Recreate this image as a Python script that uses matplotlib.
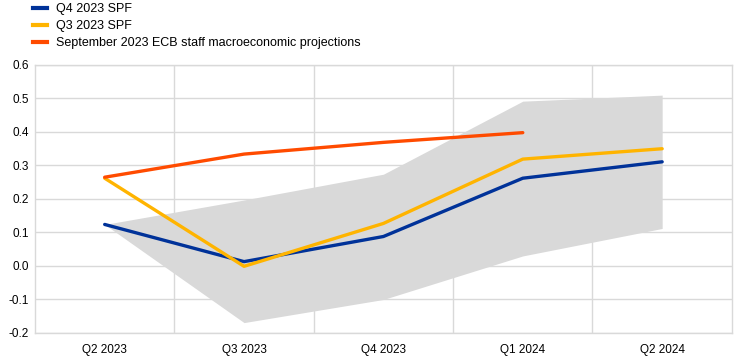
import numpy as np
import matplotlib.pyplot as plt
from matplotlib.lines import Line2D

plt.rcParams['font.family'] = ['Liberation Sans', 'DejaVu Sans']

quarters = ["Q2 2023", "Q3 2023", "Q4 2023", "Q1 2024", "Q2 2024"]
spf_q4 = [0.124, 0.013, 0.088, 0.262, 0.311]
spf_q3 = [0.262, -0.001, 0.127, 0.319, 0.350]
ecb_sep = [0.265, 0.334, 0.369, 0.398]
band_low = [0.124, -0.169, -0.100, 0.030, 0.112]
band_high = [0.124, 0.197, 0.274, 0.492, 0.510]

blue = "#003299"
yellow = "#ffb400"
orange = "#ff4b00"
grid = "#d9d9d9"

fig = plt.figure(figsize=(7.43, 3.61), dpi=100)
ax = fig.add_axes([0.0471, 0.0776, 0.9379, 0.7424])

x = np.arange(len(quarters))
ax.fill_between(x, band_low, band_high, color="#d9d9d9", lw=0, zorder=1)
ax.plot(x, spf_q4, color=blue, lw=2.4, zorder=3, solid_capstyle="round")
ax.plot(x, spf_q3, color=yellow, lw=2.4, zorder=4, solid_capstyle="round")
ax.plot(x[:len(ecb_sep)], ecb_sep, color=orange, lw=2.4, zorder=5, solid_capstyle="round")

ax.set_xlim(-0.5, len(quarters) - 0.5)
ax.set_ylim(-0.2, 0.6)
ax.set_yticks(np.arange(-0.2, 0.61, 0.1))
ax.set_yticklabels([f"{v:.1f}" for v in np.arange(-0.2, 0.61, 0.1)])
ax.set_xticks(x)
ax.set_xticklabels(quarters)
ax.set_xticks(np.arange(0.5, len(quarters) - 1, 1), minor=True)
ax.tick_params(axis="both", which="both", length=0, labelsize=8.5, colors="black")
ax.tick_params(axis="y", pad=4.5)
ax.tick_params(axis="x", pad=8)
ax.grid(axis="y", which="major", color=grid, lw=1, zorder=0)
ax.grid(axis="x", which="minor", color=grid, lw=1, zorder=0)
for s in ax.spines.values():
    s.set_color(grid)
    s.set_linewidth(1)
ax.set_axisbelow(True)

handles = [Line2D([], [], color=c, lw=3) for c in (blue, yellow, orange)]
labels = ["Q4 2023 SPF", "Q3 2023 SPF", "September 2023 ECB staff macroeconomic projections"]
fig.legend(handles, labels, loc="upper left", bbox_to_anchor=(0.045, 0.991), frameon=False,
           fontsize=9, handlelength=1.1, handletextpad=0.7, labelspacing=0.4, borderaxespad=0,
           borderpad=0)

fig.savefig("out.png", dpi=100)
